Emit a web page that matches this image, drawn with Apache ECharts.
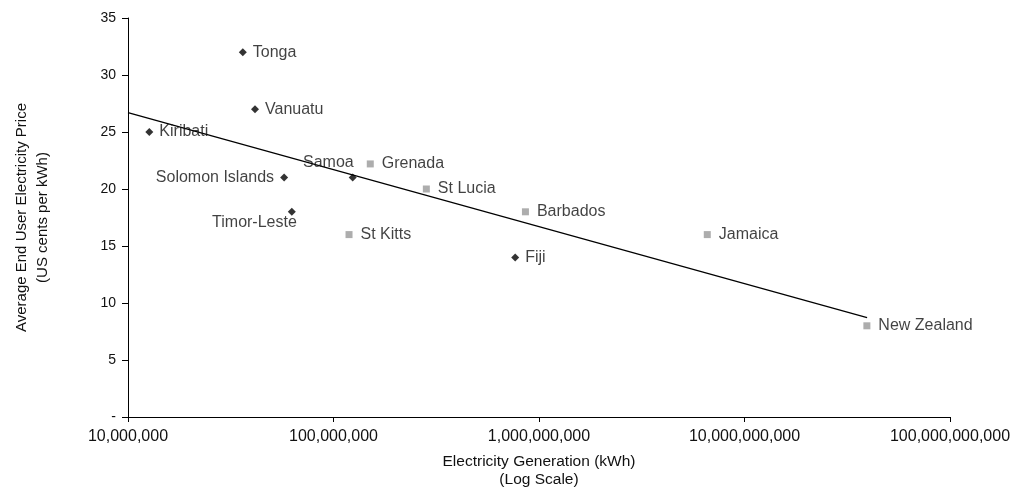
<!DOCTYPE html>
<html>
<head>
<meta charset="utf-8">
<script src="https://cdn.jsdelivr.net/npm/echarts@6/dist/echarts.min.js"></script>
<style>html,body{margin:0;padding:0;background:#fff}#c{width:1013px;height:489px}</style>
</head>
<body>
<div id="c"></div>
<script>
// Pacific islands (black diamonds)
const pacificNames = ['Tonga', 'Vanuatu', 'Kiribati', 'Solomon Islands', 'Timor-Leste', 'Samoa', 'Fiji'];
const pacificGen = [3.62e7, 4.15e7, 1.27e7, 5.75e7, 6.27e7, 1.24e8, 7.66e8];
const pacificPrice = [32, 27, 25, 21, 18, 21, 14];
// Caribbean + New Zealand (grey squares)
const otherNames = ['Grenada', 'St Lucia', 'St Kitts', 'Barbados', 'Jamaica', 'New Zealand'];
const otherGen = [1.51e8, 2.83e8, 1.19e8, 8.59e8, 6.59e9, 3.94e10];
const otherPrice = [22.2, 20, 16, 18, 16, 8];
// Trend line end points
const trendGen = [1e7, 3.95e10];
const trendPrice = [26.7, 8.72];

const FONT = 'Liberation Sans, Arial, sans-serif';
const labelOverrides = {
  'Solomon Islands': { position: 'left', distance: 6 },
  'Samoa': { position: 'left', offset: [11, -15] },
  'Timor-Leste': { position: 'left', offset: [15, 11] }
};
function mk(names, xs, ys) {
  return names.map((n, i) => {
    const item = { name: n, value: [xs[i], ys[i]] };
    if (labelOverrides[n]) item.label = labelOverrides[n];
    return item;
  });
}

const chart = echarts.init(document.getElementById('c'), null, { renderer: 'canvas' });
chart.setOption({
  backgroundColor: '#fff',
  animation: false,
  textStyle: { fontFamily: FONT },
  grid: { left: 128, right: 63, top: 18, bottom: 72, containLabel: false, outerBoundsMode: 'none' },
  xAxis: {
    type: 'log', logBase: 10, min: 1e7, max: 1e11,
    name: 'Electricity Generation (kWh)\n(Log Scale)',
    nameLocation: 'middle', nameGap: 36,
    nameTextStyle: { fontSize: 15.5, color: '#111', lineHeight: 18, fontFamily: FONT },
    axisLine: { lineStyle: { color: '#000', width: 1 } },
    axisTick: { show: true, length: 5, lineStyle: { color: '#000' } },
    axisLabel: { fontSize: 16, color: '#111', margin: 12, fontFamily: FONT,
      formatter: v => Math.round(v).toLocaleString('en-US') },
    splitLine: { show: false }, minorTick: { show: false }
  },
  yAxis: {
    type: 'value', min: 0, max: 35, interval: 5,
    name: 'Average End User Electricity Price\n(US cents per kWh)',
    nameLocation: 'middle', nameGap: 75, nameRotate: 90,
    nameTextStyle: { fontSize: 15, color: '#111', lineHeight: 21, fontFamily: FONT },
    axisLine: { show: true, lineStyle: { color: '#000', width: 1 } },
    axisTick: { show: true, length: 6, lineStyle: { color: '#000' } },
    axisLabel: { fontSize: 14, color: '#111', margin: 12, fontFamily: FONT,
      formatter: v => v === 0 ? '-' : String(v) },
    splitLine: { show: false }
  },
  series: [
    {
      type: 'line', data: trendGen.map((x, i) => [x, trendPrice[i]]),
      showSymbol: false, symbol: 'none', silent: true, z: 1,
      lineStyle: { color: '#000', width: 1.2 }
    },
    {
      type: 'scatter', symbol: 'diamond', symbolSize: 8, z: 3,
      itemStyle: { color: '#000' },
      label: { show: true, position: 'right', distance: 6, formatter: '{b}', fontSize: 16, color: '#111', fontFamily: FONT },
      data: mk(pacificNames, pacificGen, pacificPrice)
    },
    {
      type: 'scatter', symbol: 'rect', symbolSize: 7, z: 3,
      itemStyle: { color: '#999999' },
      label: { show: true, position: 'right', distance: 8, formatter: '{b}', fontSize: 16, color: '#111', fontFamily: FONT },
      data: mk(otherNames, otherGen, otherPrice)
    }
  ]
});
</script>
</body>
</html>
